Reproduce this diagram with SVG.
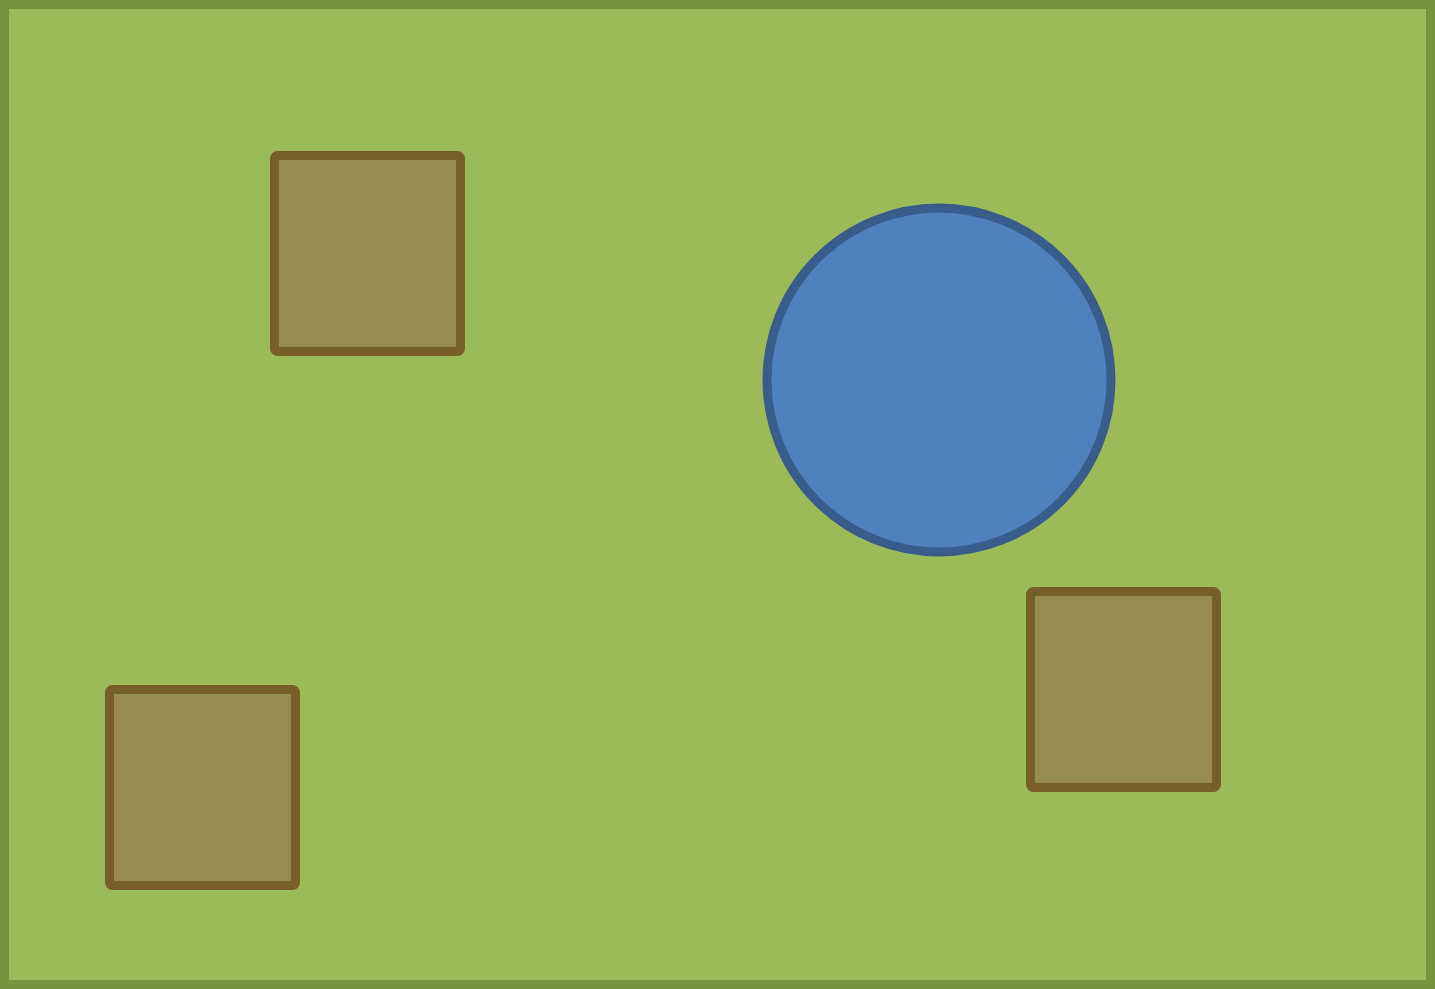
<svg xmlns="http://www.w3.org/2000/svg" width="1435" height="989" viewBox="0 0 1435 989">
  <style>
    .ground { fill: #9BBB59; stroke: #77933C; stroke-width: 9; }
    .box { fill: #968C53; stroke: #785F2A; stroke-width: 9; }
    .pond { fill: #4F81BD; stroke: #385D8A; stroke-width: 9; }
  </style>
  <g id="ground">
    <rect class="ground" x="4.5" y="4.5" width="1426" height="980"/>
  </g>
  <g id="box-top-left">
    <rect class="box" x="274.5" y="155.5" width="186" height="196" rx="3"/>
  </g>
  <g id="pond">
    <circle class="pond" cx="939" cy="380" r="172"/>
  </g>
  <g id="box-bottom-left">
    <rect class="box" x="109.5" y="689.5" width="186" height="196" rx="3"/>
  </g>
  <g id="box-right">
    <rect class="box" x="1030.5" y="591.5" width="186" height="196" rx="3"/>
  </g>
  <g id="connectors"/>
</svg>
